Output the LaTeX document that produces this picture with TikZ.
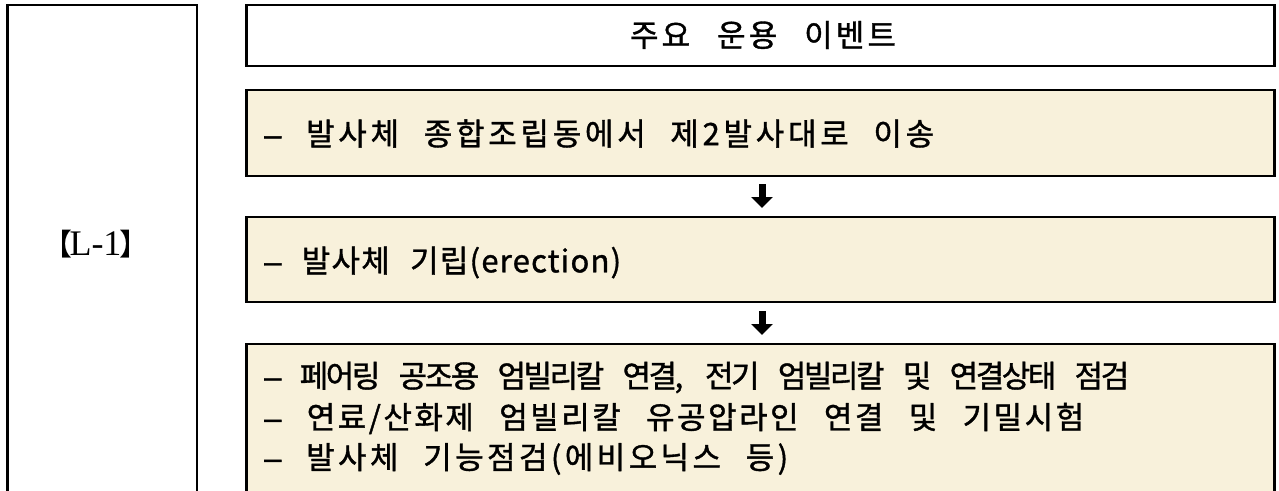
\documentclass[tikz,border=0pt]{standalone}
\usepackage{fontspec}
\setmainfont{Liberation Serif}
\newfontfamily\krH[LetterSpace=10,FakeBold=1.2]{Noto Sans CJK KR}
\newfontfamily\krA[LetterSpace=12,FakeBold=1.2]{Noto Sans CJK KR}
\newfontfamily\krB[LetterSpace=4,FakeBold=1.2]{Noto Sans CJK KR}
\newfontfamily\krC[LetterSpace=-8,FakeBold=1.2]{Noto Sans CJK KR}
\newfontfamily\krD[LetterSpace=8,FakeBold=1.2]{Noto Sans CJK KR}
\newfontfamily\krE[LetterSpace=11,FakeBold=1.2]{Noto Sans CJK KR}
\newfontfamily\krplain{Noto Sans CJK KR}
\newfontfamily\dashfont[FakeBold=1.2]{Liberation Sans}
\newcommand\spreadline[2]{\makebox[#1][s]{#2}}
\newcommand\dsh{{\dashfont –}}
\usetikzlibrary{arrows.meta}
\definecolor{boxyellow}{RGB}{248,241,219}
\tikzset{
  framebox/.style={draw=black, line width=2.6pt, outer sep=0pt, inner sep=0pt, anchor=north west},
  evbox/.style={framebox, fill=boxyellow, minimum width=1028pt},
  evtext/.style={anchor=west, inner sep=0pt, font=\fontsize{31}{36}\selectfont},
  flowarrow/.style={line width=7pt, -{Triangle[width=21pt,length=11pt]}}
}
\begin{document}
\begin{tikzpicture}[x=1pt,y=-1pt]
\clip (0,0) rectangle (1279,490);
\fill[white] (0,0) rectangle (1279,490);
% left column
\node[framebox, minimum width=189.5pt, minimum height=560pt] (side) at (7.5,5) {};
\node[inner sep=0pt, font=\fontsize{36}{40}\selectfont] (lbl) at (102,244) {{\krplain\fontsize{30}{36}\selectfont\hspace{-12pt}【}\hspace{-3pt}L-1\hspace{-2pt}{\krplain\fontsize{30}{36}\selectfont】\hspace{-12pt}}};
% header
\node[framebox, fill=white, minimum width=1028pt, minimum height=61pt] (hdr) at (246.5,5) {};
\node[inner sep=0pt, font=\krH\fontsize{31}{36}\selectfont] (hdrtxt) at (763,35) {\spreadline{266pt}{주요 운용 이벤트}};
% event boxes
\node[evbox, minimum height=86pt] (b1) at (246.5,90) {};
\node[evbox, minimum height=85pt] (b2) at (246.5,217) {};
\node[evbox, minimum height=200pt] (b3) at (246.5,344) {};
\node[evtext] (t1) at (264,133.5) {\krA\spreadline{670pt}{\dsh{} 발사체 종합조립동에서 제2발사대로 이송}};
\node[evtext] (t2) at (264,262.5) {\krB\spreadline{357pt}{\dsh{} 발사체 기립(erection)}};
\node[evtext] (t3a) at (264,377.5) {\krC\spreadline{865pt}{\dsh{} 페어링 공조용 엄빌리칼 연결, 전기 엄빌리칼 및 연결상태 점검}};
\node[evtext] (t3b) at (264,418.5) {\krD\spreadline{820pt}{\dsh{} 연료/산화제 엄빌리칼 유공압라인 연결 및 기밀시험}};
\node[evtext] (t3c) at (264,459) {\krE\spreadline{524pt}{\dsh{} 발사체 기능점검(에비오닉스 등)}};
% arrows
\draw[flowarrow] ([xshift=1.5pt,yshift=-8pt]b1.south) -- ([xshift=1.5pt,yshift=9pt]b2.north);
\draw[flowarrow] ([xshift=1.5pt,yshift=-9pt]b2.south) -- ([xshift=1.5pt,yshift=9pt]b3.north);
\end{tikzpicture}
\end{document}
